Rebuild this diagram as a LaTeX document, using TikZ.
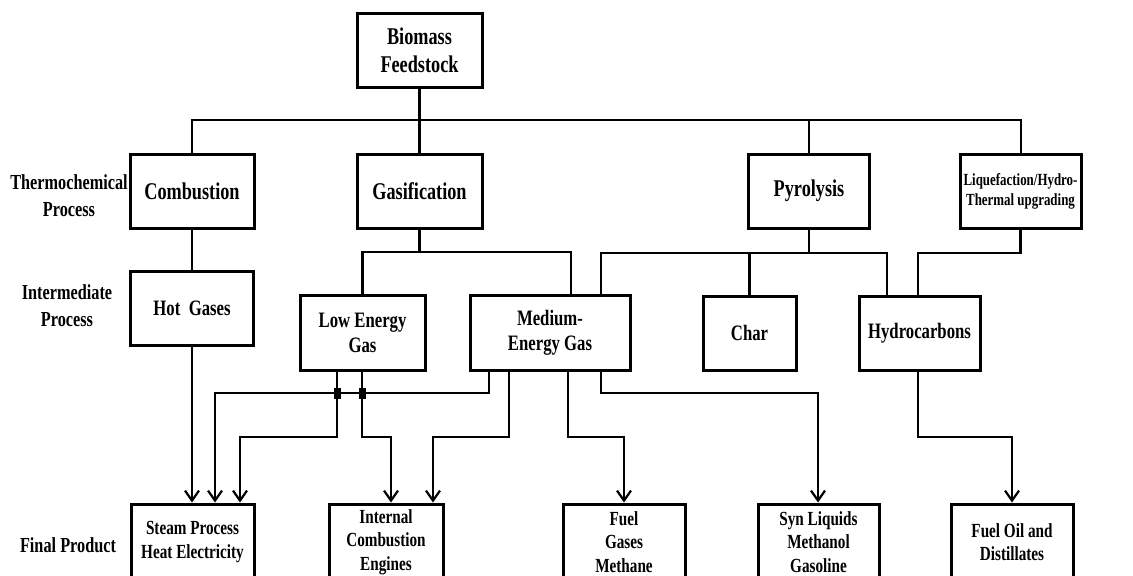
\documentclass[tikz,border=0pt]{standalone}
\usepackage{fontspec}
\setmainfont{Liberation Serif}[FakeStretch=0.76]
\usetikzlibrary{arrows.meta}
\tikzset{
  box/.style={
    draw,
    line width=1.5pt,
    align=center,
    inner sep=0pt
  },
  box-top/.style={box, minimum height=37pt, font=\bfseries\fontsize{12}{14}\selectfont},
  box-mid/.style={box, minimum height=37.5pt, font=\bfseries\fontsize{11}{12.5}\selectfont},
  box-end/.style={box, minimum height=38pt, font=\bfseries\fontsize{10}{11.8}\selectfont},
  row-label/.style={align=center, inner sep=0pt, font=\bfseries\fontsize{10.7}{13.5}\selectfont},
  link/.style={line width=1.1pt},
  arr/.style={link, -{Straight Barb[length=5pt,width=7pt,line width=1.1pt]}},
  node-join/.style={fill=black, minimum width=3.5pt, minimum height=5.5pt, inner sep=0pt}
}

\begin{document}
\begin{tikzpicture}[x=0.5pt, y={(0pt,-0.5pt)}]
  \useasboundingbox (0,0) rectangle (1133,575);
  \clip (0,0) rectangle (1133,575);
  % row labels
  \node[row-label] (lab-thermo) at (69,196) {Thermochemical\\Process};
  \node[row-label] (lab-inter) at (67,306) {Intermediate\\Process};
  \node[row-label] (lab-final) at (68,545) {Final Product};
  % feedstock and processes
  \node[box-top, minimum width=62.5pt] (bio) at (419.5,50.5) {Biomass\\Feedstock};
  \node[box-top, minimum width=62pt] (comb) at (192,191) {Combustion};
  \node[box-top, minimum width=62.5pt] (gasif) at (419.5,191) {Gasification};
  \node[box-top, minimum width=60.5pt] (pyro) at (809,191) {Pyrolysis};
  \node[box-top, minimum width=60.5pt, font=\bfseries\fontsize{8.5}{10}\selectfont] (liq) at (1020.5,191) {Liquefaction/Hydro-\\Thermal upgrading};
  % intermediates
  \node[box-mid, minimum width=61.5pt, minimum height=37pt] (hot) at (192,308) {Hot~ Gases};
  \node[box-mid, minimum width=62.5pt] (leg) at (362.5,332.5) {Low Energy\\Gas};
  \node[box-mid, minimum width=80pt] (meg) at (550,332.5) {Medium-\\Energy Gas};
  \node[box-mid, minimum width=46.5pt, minimum height=37pt] (char) at (749.5,333) {Char};
  \node[box-mid, minimum width=60.5pt, minimum height=37pt] (hydro) at (919.5,333) {Hydrocarbons};
  % final products
  \node[box-end, minimum width=61.5pt] (steam) at (192.5,542) {Steam Process\\Heat Electricity};
  \node[box-end, minimum width=57pt] (ice) at (386,542) {Internal\\Combustion\\Engines};
  \node[box-end, minimum width=61pt] (fgas) at (624,542) {Fuel\\Gases\\Methane};
  \node[box-end, minimum width=60.5pt] (syn) at (818.5,542) {Syn Liquids\\Methanol\\Gasoline};
  \node[box-end, minimum width=61pt] (foil) at (1012,542) {Fuel Oil and\\Distillates};
  % feedstock bus
  \draw[link] (bio) -- (gasif);
  \draw[link] (comb.north) |- (1021,120) -- (1021,0 |- liq.north);
  \draw[link] (pyro.north) -- (809,120);
  \draw[link] (comb) -- (hot);
  % gasification bus
  \draw[link] (gasif.south) -- (419.5,252);
  \draw[link] (leg.north) |- (571,252) -- (571,0 |- meg.north);
  % pyrolysis bus
  \draw[link, line width=1.4pt] (601,0 |- meg.north) |- (887,253) -- (887,0 |- hydro.north);
  \draw[link] (pyro.south) -- (809,253);
  \draw[link] (char.north) -- (749.5,253);
  % liquefaction
  \draw[link] (liq.south) |- (918,253) -- (918,0 |- hydro.north);
  % arrows to products
  \draw[arr] (hot.south) -- (192,0 |- steam.north);
  \draw[arr] (489,0 |- meg.south) |- (215,393) -- (215,0 |- steam.north);
  \draw[arr] (337,0 |- leg.south) |- (240,437) -- (240,0 |- steam.north);
  \draw[arr] (362,0 |- leg.south) |- (391,437) -- (391,0 |- ice.north);
  \draw[arr] (509,0 |- meg.south) |- (433,437) -- (433,0 |- ice.north);
  \draw[arr] (568,0 |- meg.south) |- (624,437) -- (fgas.north);
  \draw[arr] (601,0 |- meg.south) |- (818,393) -- (818,0 |- syn.north);
  \draw[arr] (918,0 |- hydro.south) |- (1012,437) -- (foil.north);
  % crossing marks
  \node[node-join] (j1) at (337,393) {};
  \node[node-join] (j2) at (362,393) {};
\end{tikzpicture}
\end{document}
